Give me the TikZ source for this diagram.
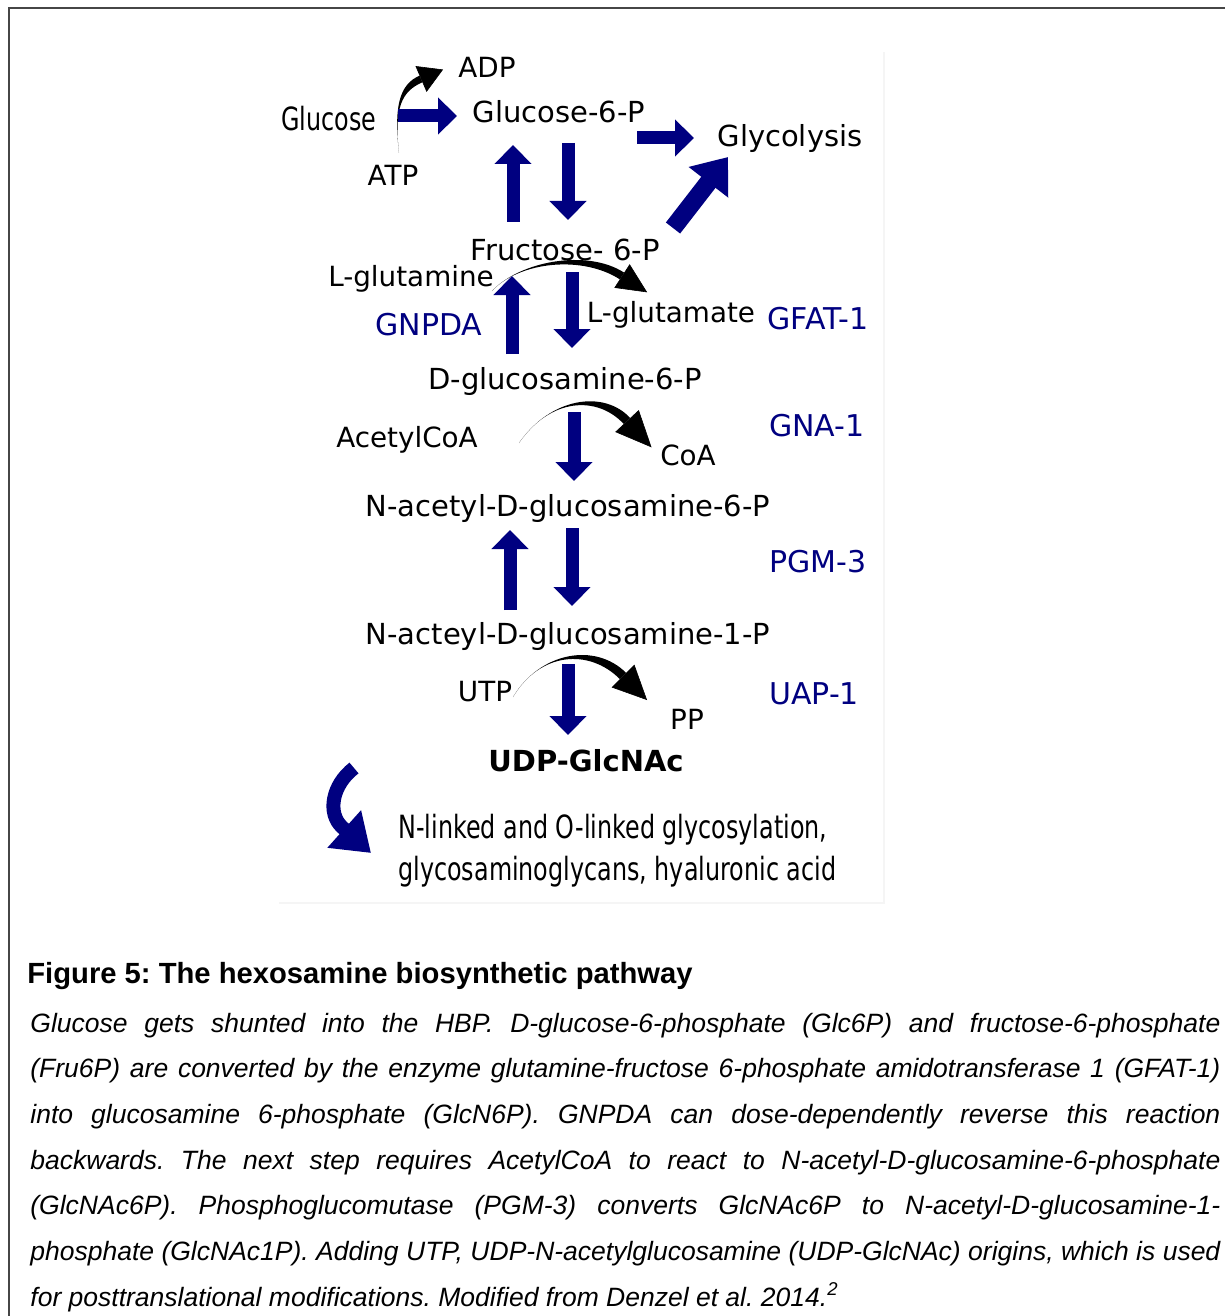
\documentclass[tikz,border=0pt]{standalone}
\usepackage{fontspec}
\setmainfont{Liberation Sans}
\newfontfamily\labfont{DejaVu Sans}
\newfontfamily\condfont[FakeStretch=0.745]{DejaVu Sans}
\usetikzlibrary{arrows.meta,calc}
\definecolor{navy}{RGB}{0,0,128}
\definecolor{framegray}{RGB}{70,70,70}
\frenchspacing
% #1 start, #2 c1, #3 c2, #4 base, #5 half width, #6 tip length, #7 tip width, #8 id
\newcommand\taperarrow[8]{%
  \coordinate (#8U) at ($(#4)!#5!90:(#3)$);
  \coordinate (#8L) at ($(#4)!#5!-90:(#3)$);
  \coordinate (#8cU) at ($(#3)+(#8U)-(#4)$);
  \coordinate (#8cL) at ($(#3)+(#8L)-(#4)$);
  \coordinate (#8T) at ($(#4)!-#6!(#3)$);
  \fill[black] (#1) .. controls (#2) and (#8cU) .. (#8U) -- (#8L) .. controls (#8cL) and (#2) .. (#1) -- cycle;
  \draw[black, line width=0.3pt, -{Triangle[length=#6,width=#7]}] (#4) -- (#8T);
}
\begin{document}
\begin{tikzpicture}[x=0.5pt,y=-0.5pt,
  lbl/.style={font=\labfont\fontsize{14.5pt}{17pt}\selectfont, inner sep=0, anchor=base},
  sml/.style={font=\labfont\fontsize{13.9pt}{17pt}\selectfont, inner sep=0, anchor=base},
  enzyme/.style={font=\labfont\fontsize{15pt}{18pt}\selectfont, text=navy, inner sep=0, anchor=base},
  condtext/.style={font=\condfont\fontsize{16pt}{19pt}\selectfont, inner sep=0},
  captext/.style={font=\frenchspacing\itshape\fontsize{13.25pt}{16pt}\selectfont, inner sep=0, anchor=base west},
  blockarrow/.style={draw=navy, line width=6.5pt, -{Triangle[length=9.5pt,width=18pt]}},
  bigarrow/.style={draw=navy, line width=9pt, -{Triangle[length=16pt,width=24pt]}},
  bluecurve/.style={draw=navy, line width=7pt, -{Triangle[length=18pt,width=24pt]}}
]
\useasboundingbox (0,0) rectangle (1225,1316);
\fill[white] (0,0) rectangle (1225,1316);
% outer frame (top and left edges visible)
\draw[framegray, line width=1pt] (9,1316) -- (9,8.5) -- (1225,8.5);
% faint border of the pasted diagram
\draw[black!4, line width=0.6pt] (279,903) -- (884,903) -- (884,52);

% ---- labels ----
\node[sml] (adp) at (487,78) {ADP};
\node[condtext, anchor=base] (glc) at (329,131) {Glucose};
\node[lbl] (g6p) at (559,123) {Glucose-6-P};
\node[lbl] (glyc) at (790,147) {Glycolysis};
\node[sml] (atp) at (393,186) {ATP};
\node[lbl] (f6p) at (565,260) {Fructose- 6-P};
\node[sml] (gln) at (411,286) {L-glutamine};
\node[sml] (glu) at (671,322) {L-glutamate};
\node[enzyme] (gfat) at (818,329) {GFAT-1};
\node[enzyme] (gnpda) at (429,335) {GNPDA};
\node[lbl] (gln6p) at (565,389) {D-glucosamine-6-P};
\node[sml] (acoa) at (407,447) {AcetylCoA};
\node[enzyme] (gna) at (817,436) {GNA-1};
\node[sml] (coa) at (688,465) {CoA};
\node[lbl] (nac6p) at (568,516) {N-acetyl-D-glucosamine-6-P};
\node[enzyme] (pgm) at (818,572) {PGM-3};
\node[lbl] (nac1p) at (568,644) {N-acteyl-D-glucosamine-1-P};
\node[sml] (utp) at (485,701) {UTP};
\node[enzyme] (uap) at (814,704) {UAP-1};
\node[sml] (pp) at (687,729) {PP};
\node[font=\labfont\bfseries\fontsize{14.5pt}{17pt}\selectfont, inner sep=0, anchor=base] (udp) at (586,771) {UDP-GlcNAc};
\node[condtext, anchor=base west] (use1) at (398,838) {N-linked and O-linked glycosylation,};
\node[condtext, anchor=base west] (use2) at (398,880) {glycosaminoglycans, hyaluronic acid};

% ---- black co-substrate arrows ----
\coordinate (k1s) at (399,153); \coordinate (k1a) at (394,108); \coordinate (k1b) at (400,88); \coordinate (k1e) at (421,79);
\taperarrow{k1s}{k1a}{k1b}{k1e}{1.8pt}{12pt}{14pt}{kA}
\coordinate (k2s) at (492,291); \coordinate (k2a) at (520,261); \coordinate (k2b) at (585,252); \coordinate (k2e) at (622,276);
\taperarrow{k2s}{k2a}{k2b}{k2e}{2pt}{15pt}{14pt}{kB}
\coordinate (k3s) at (519,443); \coordinate (k3a) at (550,398); \coordinate (k3b) at (600,392); \coordinate (k3e) at (627,421);
\taperarrow{k3s}{k3a}{k3b}{k3e}{2.2pt}{18pt}{16pt}{kC}
\coordinate (k4s) at (513,697); \coordinate (k4a) at (540,652); \coordinate (k4b) at (592,645); \coordinate (k4e) at (623,676);
\taperarrow{k4s}{k4a}{k4b}{k4e}{2.2pt}{17pt}{16pt}{kD}

% ---- blue block arrows ----
\coordinate (h1s) at (398,116); \coordinate (h1e) at (457,116);
\draw[blockarrow] (h1s) -- (h1e);
\coordinate (h2s) at (637,138); \coordinate (h2e) at (694,138);
\draw[blockarrow] (h2s) -- (h2e);
\coordinate (v1s) at (513,222); \coordinate (v1e) at (513,145);
\draw[blockarrow] (v1s) -- (v1e);
\coordinate (v2s) at (568,143); \coordinate (v2e) at (568,220);
\draw[blockarrow] (v2s) -- (v2e);
\coordinate (d1s) at (673,228); \coordinate (d1e) at (728,157);
\draw[bigarrow] (d1s) -- (d1e);
\coordinate (v3s) at (512,354); \coordinate (v3e) at (512,276);
\draw[blockarrow] (v3s) -- (v3e);
\coordinate (v4s) at (572,272); \coordinate (v4e) at (572,348);
\draw[blockarrow] (v4s) -- (v4e);
\coordinate (v5s) at (574,412); \coordinate (v5e) at (574,481);
\draw[blockarrow] (v5s) -- (v5e);
\coordinate (v6s) at (510,610); \coordinate (v6e) at (510,530);
\draw[blockarrow] (v6s) -- (v6e);
\coordinate (v7s) at (572,528); \coordinate (v7e) at (572,606);
\draw[blockarrow] (v7s) -- (v7e);
\coordinate (v8s) at (568,664); \coordinate (v8e) at (568,735);
\draw[blockarrow] (v8s) -- (v8e);
% curved arrow to the uses
\coordinate (b1s) at (354,768); \coordinate (b1a) at (332,785); \coordinate (b1b) at (327,813);
\coordinate (b1m) at (342,827); \coordinate (b1e) at (371,853);
\draw[bluecurve] (b1s) .. controls (b1a) and (b1b) .. (b1m) -- (b1e);

% ---- caption ----
\node[font=\frenchspacing\bfseries\fontsize{14.6pt}{17pt}\selectfont, anchor=base west, inner sep=0] (title) at (27,983) {Figure 5: The hexosamine biosynthetic pathway};
\node[captext] (cl1) at (30,1032) {\makebox[595pt][s]{Glucose gets shunted into the HBP. D-glucose-6-phosphate (Glc6P) and fructose-6-phosphate}};
\node[captext] (cl2) at (30,1077.7) {\makebox[595pt][s]{(Fru6P) are converted by the enzyme glutamine-fructose 6-phosphate amidotransferase 1 (GFAT-1)}};
\node[captext] (cl3) at (30,1123.3) {\makebox[595pt][s]{into glucosamine 6-phosphate (GlcN6P). GNPDA can dose-dependently reverse this reaction}};
\node[captext] (cl4) at (30,1169) {\makebox[595pt][s]{backwards. The next step requires AcetylCoA to react to N-acetyl-D-glucosamine-6-phosphate}};
\node[captext] (cl5) at (30,1214.7) {\makebox[595pt][s]{(GlcNAc6P). Phosphoglucomutase (PGM-3) converts GlcNAc6P to N-acetyl-D-glucosamine-1-}};
\node[captext] (cl6) at (30,1260.3) {\makebox[595pt][s]{phosphate (GlcNAc1P). Adding UTP, UDP-N-acetylglucosamine (UDP-GlcNAc) origins, which is used}};
\node[captext] (cl7) at (30,1306) {for posttranslational modifications. Modified from Denzel et al. 2014.\textsuperscript{2}};
\end{tikzpicture}
\end{document}
